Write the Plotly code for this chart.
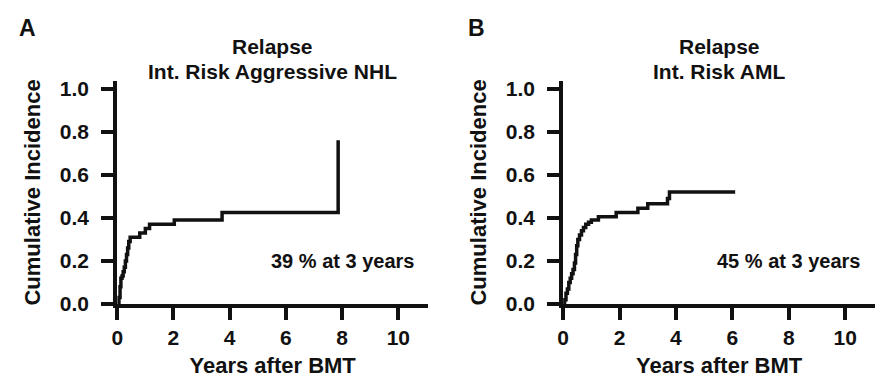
import plotly.graph_objects as go

# ---- data ----
years_a = [0, 0.06, 0.1, 0.13, 0.17, 0.21, 0.25, 0.29, 0.33, 0.37, 0.41, 0.46, 0.8, 1.0, 1.15, 2.03, 3.73, 7.86]
cuminc_a = [0, 0.03, 0.08, 0.12, 0.13, 0.15, 0.17, 0.2, 0.23, 0.26, 0.29, 0.31, 0.33, 0.35, 0.37, 0.39, 0.425, 0.76]

years_b = [0, 0.05, 0.1, 0.15, 0.2, 0.25, 0.3, 0.35, 0.4, 0.44, 0.48, 0.52, 0.58, 0.65, 0.72, 0.8, 0.9, 1.0,
           1.25, 1.88, 2.65, 3.0, 3.7, 3.77, 6.1]
cuminc_b = [0, 0.02, 0.05, 0.07, 0.1, 0.12, 0.14, 0.16, 0.19, 0.23, 0.27, 0.3, 0.32, 0.34, 0.355, 0.37, 0.38, 0.39,
            0.405, 0.425, 0.445, 0.465, 0.49, 0.52, 0.52]

panel_letters = ["A", "B"]
title_line1 = ["Relapse", "Relapse"]
title_line2 = ["Int. Risk Aggressive NHL", "Int. Risk AML"]
notes = ["39 % at 3 years", "45 % at 3 years"]
note_pos = (8, 0.2)
x_ticks = [0, 2, 4, 6, 8, 10]
y_ticks = [0.0, 0.2, 0.4, 0.6, 0.8, 1.0]
x_title = "Years after BMT"
y_title = "Cumulative Incidence"

FONT = "Arial, Liberation Sans, sans-serif"
INK = "#111111"
W, H = 878, 389

fig = go.Figure()
fig.add_trace(go.Scatter(x=years_a, y=cuminc_a, mode="lines", line=dict(shape="hv", color=INK, width=3.5),
                         xaxis="x", yaxis="y", showlegend=False, hoverinfo="skip"))
fig.add_trace(go.Scatter(x=years_b, y=cuminc_b, mode="lines", line=dict(shape="hv", color=INK, width=3.5),
                         xaxis="x2", yaxis="y2", showlegend=False, hoverinfo="skip"))

xdom = [[112 / W, 425 / W], [561 / W, 875 / W]]
ydom = [(H - 312) / H, (H - 80) / H]

common_x = dict(range=[0, 11.06], tickvals=x_ticks, ticks="outside", ticklen=12, tickwidth=4, tickcolor=INK,
                showline=True, linewidth=4, linecolor=INK, showgrid=False, zeroline=False,
                tickfont=dict(family=FONT, size=21, color=INK, weight="bold"),
                title=dict(text=x_title, font=dict(family=FONT, size=22, color=INK, weight="bold"), standoff=10),
                fixedrange=True)
common_y = dict(range=[0, 1.036], tickvals=y_ticks, tickformat=".1f", ticks="outside", ticklen=12, tickwidth=4,
                tickcolor=INK, showline=True, linewidth=4, linecolor=INK, showgrid=False, zeroline=False,
                tickfont=dict(family=FONT, size=21, color=INK, weight="bold"), ticklabelstandoff=8,
                title=dict(text=y_title, font=dict(family=FONT, size=22, color=INK, weight="bold"), standoff=14),
                fixedrange=True)

fig.update_layout(
    width=W, height=H, margin=dict(l=0, r=0, t=0, b=0),
    plot_bgcolor="white", paper_bgcolor="white",
    xaxis=dict(domain=xdom[0], anchor="y", **common_x),
    yaxis=dict(domain=ydom, anchor="x", **common_y),
    xaxis2=dict(domain=xdom[1], anchor="y2", **common_x),
    yaxis2=dict(domain=ydom, anchor="x2", **common_y),
)

title_font = dict(family=FONT, size=21, color=INK, weight="bold")
annotations = []
for i, (xr, yr) in enumerate([("x", "y"), ("x2", "y2")]):
    annotations.append(dict(text=title_line1[i], xref=f"{xr} domain", yref="paper", x=0.5, y=(H - 57) / H,
                            xanchor="center", yanchor="bottom", showarrow=False, font=title_font,
                            borderpad=0))
    annotations.append(dict(text=title_line2[i], xref=f"{xr} domain", yref="paper", x=0.5, y=(H - 57.5) / H,
                            xanchor="center", yanchor="top", showarrow=False, font=title_font,
                            borderpad=0))
    annotations.append(dict(text=notes[i], xref=xr, yref=yr, x=note_pos[0], y=note_pos[1],
                            xanchor="center", yanchor="middle", showarrow=False,
                            font=dict(family=FONT, size=20, color=INK, weight="bold")))
annotations.append(dict(text=panel_letters[0], xref="paper", yref="paper", x=11 / W, y=(H - 25) / H,
                        xanchor="left", yanchor="middle", showarrow=False,
                        font=dict(family=FONT, size=23, color=INK, weight="bold")))
annotations.append(dict(text=panel_letters[1], xref="paper", yref="paper", x=463 / W, y=(H - 25) / H,
                        xanchor="left", yanchor="middle", showarrow=False,
                        font=dict(family=FONT, size=23, color=INK, weight="bold")))
fig.update_layout(annotations=annotations)

# extend the x-axis line leftwards under the y ticks (crossing-axes look)
shapes = []
for xr, yr in [("x", "y"), ("x2", "y2")]:
    shapes.append(dict(type="line", xref=xr, yref=yr, xsizemode="pixel", xanchor=0, x0=-14, x1=0,
                       ysizemode="pixel", yanchor=0, y0=-2, y1=-2, line=dict(color=INK, width=4)))
fig.update_layout(shapes=shapes)

fig.write_html("out.html", config={"displayModeBar": False},
               post_script="document.body.style.margin='0';document.body.style.overflow='hidden';")
